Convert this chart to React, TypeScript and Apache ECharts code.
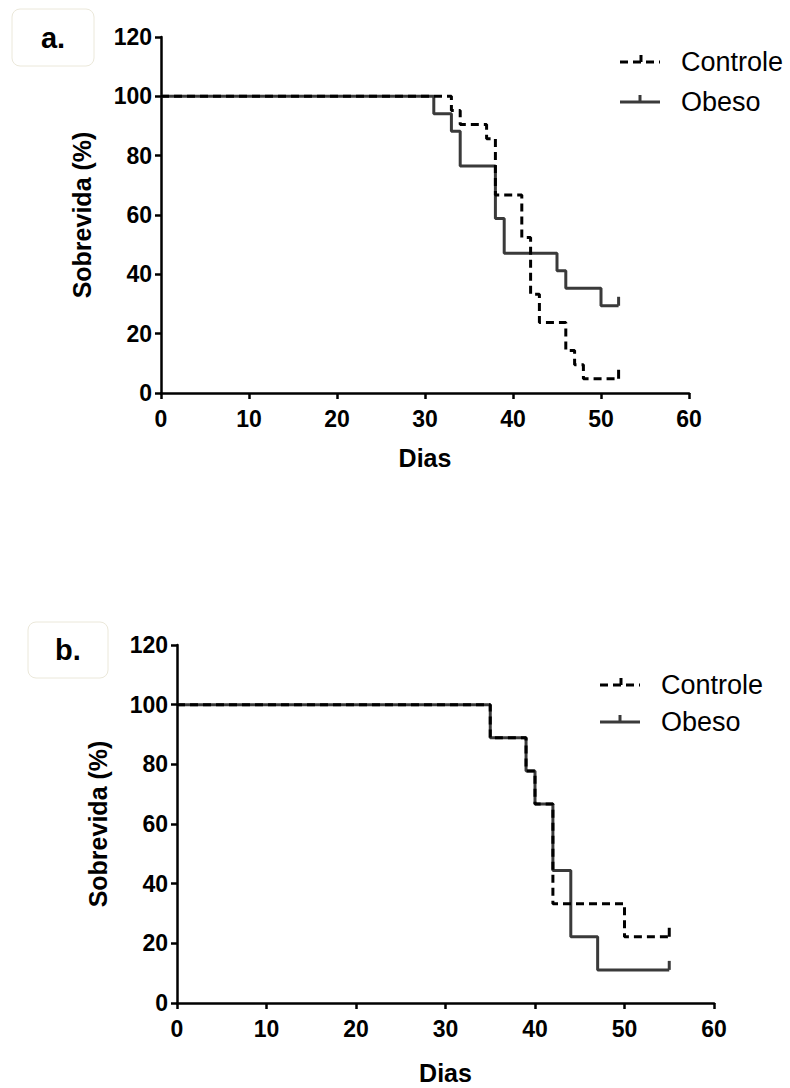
import React, { useEffect, useRef } from "react";
import * as echarts from "echarts";

// Panel a
const ctrlADays = [0, 33, 34, 37, 38, 41, 42, 43, 46, 47, 48, 52];
const ctrlASurv = [100, 95.2, 90.5, 85.7, 66.7, 52.4, 33.3, 23.8, 14.3, 9.5, 4.8, 4.8];
const obesoADays = [0, 31, 33, 34, 38, 39, 45, 46, 50, 52];
const obesoASurv = [100, 94.1, 88.2, 76.5, 58.8, 47.1, 41.2, 35.3, 29.4, 29.4];
// Panel b
const ctrlBDays = [0, 35, 39, 40, 42, 50, 55];
const ctrlBSurv = [100, 88.9, 77.8, 66.7, 33.3, 22.2, 22.2];
const obesoBDays = [0, 35, 39, 40, 42, 44, 47, 55];
const obesoBSurv = [100, 88.9, 77.8, 66.7, 44.4, 22.2, 11.1, 11.1];

const xTicks = [0, 10, 20, 30, 40, 50, 60];
const yTicks = [0, 20, 40, 60, 80, 100, 120];
const seriesNames = ["Controle", "Obeso"];
const panelLabels = ["a.", "b."];
const xTitle = "Dias";
const yTitle = "Sobrevida (%)";

const FONT = "'Liberation Sans', Arial, Helvetica, sans-serif";
const CTRL_COLOR = "#000000";
const OBESO_COLOR = "#3a3a3a";
const LW = 3;

function toData(days: number[], surv: number[], color: string) {
  return days.map((d, i) => {
    const last = i === days.length - 1;
    return {
      value: [d, surv[i]],
      symbol: last ? "rect" : "none",
      symbolSize: last ? [LW, 9] : 0,
      symbolOffset: last ? [0, -4.5] : [0, 0],
      itemStyle: { color },
    };
  });
}

function axisCommon(labelMargin: number) {
  return {
    axisLine: { show: true, lineStyle: { color: "#000", width: 2.5 } },
    axisTick: { show: true, inside: false, length: 6, lineStyle: { color: "#000", width: 2.5 } },
    axisLabel: { color: "#000", fontSize: 23, fontWeight: "bold", fontFamily: FONT, margin: labelMargin },
    splitLine: { show: false },
    nameTextStyle: { color: "#000", fontSize: 25, fontWeight: "bold", fontFamily: FONT },
  };
}

function legendGraphic(x: number, y1: number, y2: number) {
  const tx = x + 61;
  return [
    { type: "line", shape: { x1: x, y1: y1, x2: x + 40, y2: y1 }, style: { stroke: CTRL_COLOR, lineWidth: LW, lineDash: [8, 5] } },
    { type: "line", shape: { x1: x + 21, y1: y1 - 7, x2: x + 21, y2: y1 }, style: { stroke: CTRL_COLOR, lineWidth: LW } },
    { type: "text", x: tx, y: y1, style: { text: seriesNames[0], fill: "#000", font: `27px ${FONT}`, textVerticalAlign: "middle", textAlign: "left" } },
    { type: "line", shape: { x1: x, y1: y2, x2: x + 40, y2: y2 }, style: { stroke: OBESO_COLOR, lineWidth: LW } },
    { type: "line", shape: { x1: x + 20, y1: y2 - 7, x2: x + 20, y2: y2 }, style: { stroke: OBESO_COLOR, lineWidth: LW } },
    { type: "text", x: tx, y: y2, style: { text: seriesNames[1], fill: "#000", font: `27px ${FONT}`, textVerticalAlign: "middle", textAlign: "left" } },
  ];
}

function panelLabel(x: number, y: number, w: number, h: number, label: string) {
  return [
    { type: "rect", shape: { x, y, width: w, height: h, r: 8 }, style: { fill: "#fff", stroke: "#ebe8da", lineWidth: 1 } },
    { type: "text", x: x + w / 2, y: y + h / 2, style: { text: label, fill: "#000", font: `bold 29px ${FONT}`, textAlign: "center", textVerticalAlign: "middle" } },
  ];
}

export default function App() {
  const ref = useRef<HTMLDivElement>(null);
  useEffect(() => {
    if (!ref.current) return;
    const chart = echarts.init(ref.current, undefined, { renderer: "svg" });
    const grids = [
      { left: 161, top: 37, width: 528, height: 356 },
      { left: 177, top: 645, width: 537, height: 358 },
    ];
    const xGaps = [52, 57];
    const xAxes = grids.map((_, i) => ({
      type: "value",
      gridIndex: i,
      min: xTicks[0],
      max: xTicks[xTicks.length - 1],
      interval: xTicks[1] - xTicks[0],
      name: xTitle,
      nameLocation: "middle",
      nameGap: xGaps[i],
      ...axisCommon(14),
    }));
    const yAxes = grids.map((_, i) => ({
      type: "value",
      gridIndex: i,
      min: yTicks[0],
      max: yTicks[yTicks.length - 1],
      interval: yTicks[1] - yTicks[0],
      name: yTitle,
      nameLocation: "middle",
      nameGap: 67,
      ...axisCommon(9),
    }));
    const mk = (name: string, days: number[], surv: number[], idx: number, dashed: boolean, color: string, z: number) => ({
      type: "line",
      name,
      xAxisIndex: idx,
      yAxisIndex: idx,
      step: "end",
      data: toData(days, surv, color),
      showSymbol: true,
      symbol: "none",
      lineStyle: { color, width: LW, type: dashed ? [8, 5] : "solid" },
      itemStyle: { color },
      z,
    });
    chart.setOption({
      animation: false,
      backgroundColor: "#fff",
      grid: grids,
      xAxis: xAxes,
      yAxis: yAxes,
      series: [
        mk(seriesNames[1], obesoADays, obesoASurv, 0, false, OBESO_COLOR, 2),
        mk(seriesNames[0], ctrlADays, ctrlASurv, 0, true, CTRL_COLOR, 3),
        mk(seriesNames[1], obesoBDays, obesoBSurv, 1, false, OBESO_COLOR, 2),
        mk(seriesNames[0], ctrlBDays, ctrlBSurv, 1, true, CTRL_COLOR, 3),
      ],
      graphic: [
        ...panelLabel(12, 9, 82, 57, panelLabels[0]),
        ...panelLabel(28, 622, 80, 56, panelLabels[1]),
        ...legendGraphic(620, 62, 102),
        ...legendGraphic(600, 685, 722),
      ],
    });
    return () => chart.dispose();
  }, []);
  return (
    <div
      ref={ref}
      style={{ position: "absolute", left: 0, top: 0, width: 790, height: 1088, background: "#fff" }}
    />
  );
}
